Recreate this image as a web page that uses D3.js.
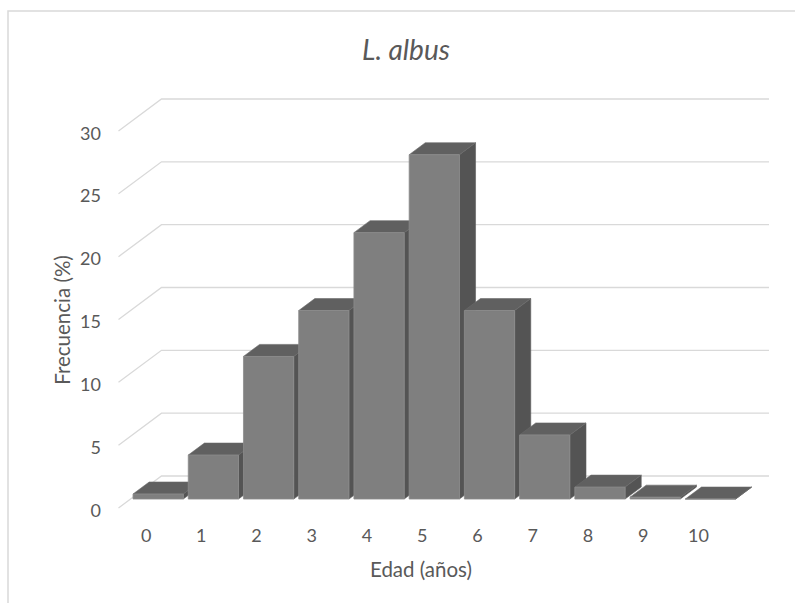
<!DOCTYPE html>
<html>
<head>
<meta charset="utf-8">
<script src="https://cdnjs.cloudflare.com/ajax/libs/d3/7.8.5/d3.min.js"></script>
<style>
  html, body { margin: 0; padding: 0; background: #fff; }
  svg { display: block; }
</style>
</head>
<body>
<svg id="chart" width="795" height="603"></svg>
<script>
// ---- data ----
const categories = ["0", "1", "2", "3", "4", "5", "6", "7", "8", "9", "10"];
const frecuencia = [0.4, 3.5, 11.35, 15.0, 21.2, 27.4, 15.0, 5.1, 0.95, 0.15, 0.0];
const yTicks = [0, 5, 10, 15, 20, 25, 30];
const titleText = "L. albus";
const xTitle = "Edad (años)";
const yTitle = "Frecuencia (%)";

// ---- layout ----
const W = 795, H = 603;
const svg = d3.select("#chart");
const font = "Lato, 'Open Sans', sans-serif";
const textColor = "#595959";

// oblique depth projection
const DX = 43, DY = 32;
const dFront = 0.28, dBack = 0.655;

const x = d3.scaleBand().domain(categories).range([118.5, 726]).paddingInner(0.09).paddingOuter(0.045);
const y = d3.scaleLinear().domain([0, 30]).range([508, 131]);

const P = (px, py, d) => [px + DX * d, py - DY * d];

// chart border
svg.append("rect").attr("x", 8).attr("y", 11).attr("width", W + 20).attr("height", H + 20)
  .attr("fill", "none").attr("stroke", "#d9d9d9").attr("stroke-width", 1.5);

// gridlines
const x0 = x.range()[0], x1 = x.range()[1];
svg.append("g").selectAll("path").data(yTicks).join("path")
  .attr("d", v => {
    const a = P(x0, y(v), 0), b = P(x0, y(v), 1), c = P(x1, y(v), 1);
    return `M${a}L${b}L${c}`;
  })
  .attr("fill", "none").attr("stroke", "#d9d9d9").attr("stroke-width", 1.3);

// y tick labels
svg.append("g").selectAll("text").data(yTicks).join("text")
  .attr("x", 101).attr("y", v => y(v) + 1.5)
  .attr("text-anchor", "end").attr("dominant-baseline", "central")
  .attr("font-family", font).attr("font-size", 18).attr("fill", textColor)
  .text(d => d);

// x tick labels
svg.append("g").selectAll("text").data(categories).join("text")
  .attr("x", c => x(c) + x.bandwidth() / 2).attr("y", 535)
  .attr("text-anchor", "middle").attr("dominant-baseline", "central")
  .attr("font-family", font).attr("font-size", 18).attr("fill", textColor)
  .text(d => d);

// bars (painted left to right)
const bars = svg.append("g");
categories.forEach((c, i) => {
  const v = frecuencia[i];
  const l = x(c), r = x(c) + x.bandwidth();
  const t = y(v), b = y(0);
  const g = bars.append("g");
  const poly = pts => pts.map(p => p.join(",")).join(" ");
  const fl_t = P(l, t, dFront), fr_t = P(r, t, dFront), fr_b = P(r, b, dFront), fl_b = P(l, b, dFront);
  const bl_t = P(l, t, dBack), br_t = P(r, t, dBack), br_b = P(r, b, dBack);
  g.append("polygon").attr("points", poly([fr_t, br_t, br_b, fr_b]))
    .attr("fill", "#545454").attr("stroke", "#5e5e5e").attr("stroke-width", 0.6);
  g.append("polygon").attr("points", poly([fl_t, bl_t, br_t, fr_t]))
    .attr("fill", "#606060").attr("stroke", "#6a6a6a").attr("stroke-width", 0.6);
  g.append("polygon").attr("points", poly([fl_t, fr_t, fr_b, fl_b]))
    .attr("fill", "#7f7f7f").attr("stroke", "#8d8d8d").attr("stroke-width", 0.8);
});

// title
svg.append("text").attr("x", 406).attr("y", 49)
  .attr("text-anchor", "middle").attr("dominant-baseline", "central")
  .attr("font-family", font).attr("font-style", "italic").attr("font-size", 28)
  .attr("fill", textColor).text(titleText);

// x axis title
svg.append("text").attr("x", 421).attr("y", 569)
  .attr("text-anchor", "middle").attr("dominant-baseline", "central")
  .attr("font-family", font).attr("font-size", 20.5).attr("fill", textColor)
  .text(xTitle);

// y axis title
svg.append("text").attr("transform", "translate(62,320) rotate(-90)")
  .attr("text-anchor", "middle").attr("dominant-baseline", "central")
  .attr("font-family", font).attr("font-size", 20.5).attr("fill", textColor)
  .text(yTitle);
</script>
</body>
</html>
